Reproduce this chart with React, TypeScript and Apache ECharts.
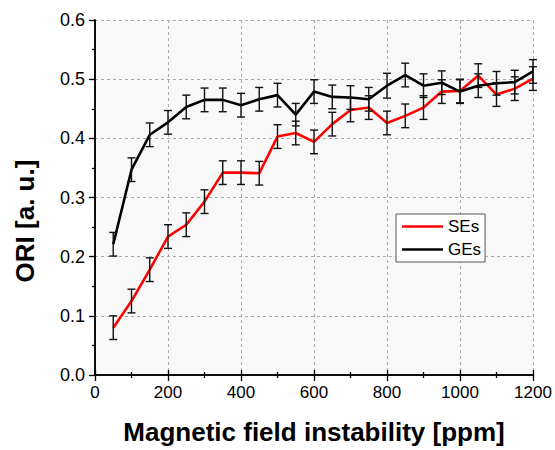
import React, { useEffect, useRef } from "react";
import * as echarts from "echarts";

const xValues = [50, 100, 150, 200, 250, 300, 350, 400, 450, 500, 550, 600, 650, 700, 750, 800, 850, 900, 950, 1000, 1050, 1100, 1150, 1200];
const seValues = [0.080, 0.125, 0.178, 0.234, 0.254, 0.293, 0.342, 0.342, 0.341, 0.403, 0.409, 0.394, 0.424, 0.448, 0.452, 0.426, 0.438, 0.452, 0.479, 0.480, 0.506, 0.474, 0.484, 0.501];
const seErrors = [0.02, 0.02, 0.02, 0.02, 0.02, 0.02, 0.02, 0.02, 0.02, 0.02, 0.02, 0.02, 0.02, 0.02, 0.02, 0.02, 0.02, 0.02, 0.02, 0.02, 0.02, 0.02, 0.02, 0.02];
const geValues = [0.221, 0.347, 0.406, 0.427, 0.453, 0.465, 0.465, 0.456, 0.466, 0.473, 0.440, 0.479, 0.470, 0.469, 0.466, 0.489, 0.507, 0.489, 0.494, 0.479, 0.489, 0.493, 0.495, 0.513];
const geErrors = [0.02, 0.02, 0.02, 0.02, 0.02, 0.02, 0.02, 0.02, 0.02, 0.02, 0.019, 0.02, 0.02, 0.02, 0.02, 0.021, 0.02, 0.02, 0.02, 0.02, 0.02, 0.02, 0.02, 0.02];
const seriesNames = ["SEs", "GEs"];
const xTitle = "Magnetic field instability [ppm]";
const yTitle = "ORI [a. u.]";

const FONT = "'Liberation Sans', Arial, sans-serif";

function errorSeries(values: number[], errors: number[]) {
  const data = xValues.map((x, i) => [x, values[i] - errors[i], values[i] + errors[i]]);
  return {
    type: "custom",
    silent: true,
    z: 5,
    renderItem: (params: any, api: any) => {
      const x = api.value(0);
      const lo = api.coord([x, api.value(1)]);
      const hi = api.coord([x, api.value(2)]);
      const hw = 4;
      const style = { stroke: "#111", lineWidth: 1.4, fill: null };
      return {
        type: "group",
        children: [
          { type: "line", shape: { x1: lo[0], y1: lo[1], x2: hi[0], y2: hi[1] }, style },
          { type: "line", shape: { x1: lo[0] - hw, y1: lo[1], x2: lo[0] + hw, y2: lo[1] }, style },
          { type: "line", shape: { x1: hi[0] - hw, y1: hi[1], x2: hi[0] + hw, y2: hi[1] }, style },
        ],
      };
    },
    encode: { x: 0, y: [1, 2] },
    data,
  };
}

export default function App() {
  const ref = useRef<HTMLDivElement>(null);
  useEffect(() => {
    if (!ref.current) return;
    const chart = echarts.init(ref.current, null, { renderer: "svg" });
    const axisLine = { show: true, lineStyle: { color: "#000", width: 1.5 } };
    chart.setOption({
      animation: false,
      backgroundColor: "#fff",
      grid: { left: 95, right: 22, top: 20, bottom: 72, show: true, backgroundColor: "#f8f8f8", borderWidth: 0 },
      legend: {
        show: true,
        orient: "vertical",
        left: 396,
        top: 214,
        padding: [3, 4, 3, 6],
        itemGap: 4,
        icon: "rect",
        itemWidth: 41,
        itemHeight: 2.6,
        itemTextGap: 6,
        backgroundColor: "#fff",
        borderColor: "#555",
        borderWidth: 1,
        borderRadius: 0,
        textStyle: { fontFamily: FONT, fontSize: 17, color: "#000", lineHeight: 19 },
        data: seriesNames,
      },
      xAxis: [
        {
          type: "value",
          position: "bottom",
          min: 0,
          max: 1200,
          interval: 200,
          axisLine,
          axisTick: { show: true, inside: false, length: 6, lineStyle: { color: "#000", width: 1.3 } },
          minorTick: { show: true, splitNumber: 2, length: 3, lineStyle: { color: "#000", width: 1.3 } },
          splitLine: { show: true, lineStyle: { color: "#aaa", type: [3, 3], width: 1 } },
          axisLabel: { fontFamily: FONT, fontSize: 17, color: "#000", margin: 9, formatter: (v: number) => String(v) },
          name: xTitle,
          nameLocation: "middle",
          nameGap: 44,
          nameTextStyle: { fontFamily: FONT, fontSize: 26, fontWeight: "bold", color: "#000" },
        },
        {
          type: "value",
          position: "top",
          min: 0,
          max: 1200,
          interval: 200,
          axisLine,
          axisTick: { show: true, inside: false, length: 5, lineStyle: { color: "#000", width: 1.3 } },
          minorTick: { show: true, splitNumber: 2, length: 3, lineStyle: { color: "#000", width: 1.3 } },
          splitLine: { show: false },
          axisLabel: { show: false },
        },
      ],
      yAxis: [
        {
          type: "value",
          position: "left",
          min: 0,
          max: 0.6,
          interval: 0.1,
          axisLine,
          axisTick: { show: true, inside: false, length: 6, lineStyle: { color: "#000", width: 1.3 } },
          minorTick: { show: true, splitNumber: 2, length: 3, lineStyle: { color: "#000", width: 1.3 } },
          splitLine: { show: true, lineStyle: { color: "#aaa", type: [3, 3], width: 1 } },
          axisLabel: { fontFamily: FONT, fontSize: 18, color: "#000", margin: 10, formatter: (v: number) => v.toFixed(1) },
        },
        {
          type: "value",
          position: "right",
          min: 0,
          max: 0.6,
          interval: 0.1,
          axisLine,
          axisTick: { show: false },
          splitLine: { show: false },
          axisLabel: { show: false },
        },
      ],
      graphic: [
        {
          type: "text",
          x: 25,
          y: 221,
          rotation: Math.PI / 2,
          style: {
            text: yTitle,
            fontFamily: FONT,
            fontSize: 26,
            fontWeight: "bold",
            fill: "#000",
            align: "center",
            verticalAlign: "middle",
          },
        },
      ],
      series: [
        {
          name: seriesNames[0],
          type: "line",
          symbol: "none",
          lineStyle: { color: "#ff0000", width: 2.6 },
          itemStyle: { color: "#ff0000" },
          z: 3,
          data: xValues.map((x, i) => [x, seValues[i]]),
        },
        {
          name: seriesNames[1],
          type: "line",
          symbol: "none",
          lineStyle: { color: "#000", width: 2.6 },
          itemStyle: { color: "#000" },
          z: 4,
          data: xValues.map((x, i) => [x, geValues[i]]),
        },
        errorSeries(seValues, seErrors),
        errorSeries(geValues, geErrors),
      ],
    });
    return () => chart.dispose();
  }, []);
  return <div ref={ref} style={{ width: 555, height: 450, position: "absolute", left: 0, top: 0 }} />;
}
